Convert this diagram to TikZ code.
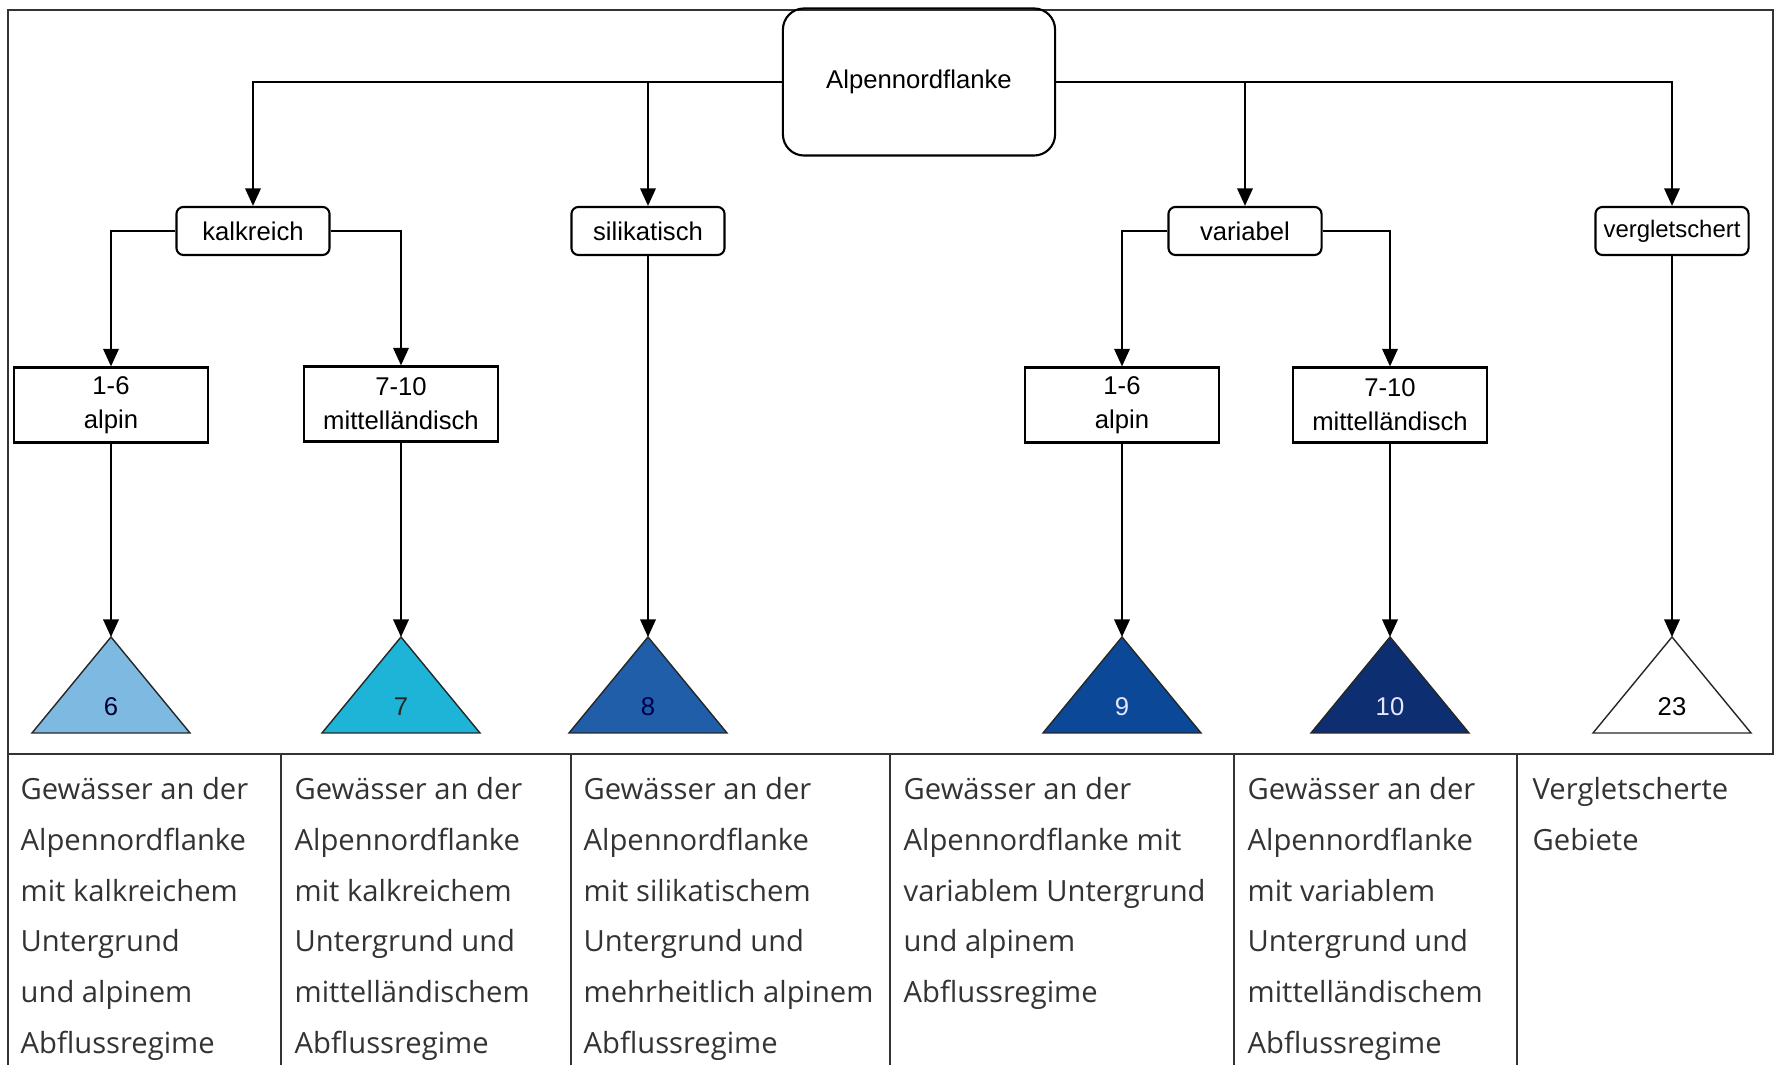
\documentclass[tikz,border=0pt]{standalone}
\usepackage{fontspec}
\setmainfont{Open Sans}
\newfontfamily\diafont{Liberation Sans}
\usetikzlibrary{arrows.meta}
\definecolor{tri6}{RGB}{125,185,225}
\definecolor{tri7}{RGB}{30,180,215}
\definecolor{tri8}{RGB}{33,94,170}
\definecolor{tri9}{RGB}{12,72,152}
\definecolor{tri10}{RGB}{14,46,114}
\colorlet{textgray}{black!80}
\tikzset{
  >={Triangle[length=5pt,width=4.4pt]}, % filled black arrow heads
  connect/.style={line width=0.6pt,->},
  frame/.style={line width=0.5pt,black!80},
  box/.style={draw,line width=0.6pt,inner sep=0pt,align=center,
              font=\diafont\fontsize{7.3}{9.7}\selectfont},
  root/.style={box,rounded corners=6pt,minimum width=2.72cm,minimum height=1.47cm},
  group/.style={box,rounded corners=2pt,minimum width=1.53cm,minimum height=0.48cm},
  regime/.style={box,minimum width=1.94cm,minimum height=0.75cm},
  tri/.style={line width=0.4pt,draw=black!85},
  num/.style={inner sep=0pt,font=\diafont\fontsize{7.3}{9}\selectfont},
  desc/.style={anchor=north west,inner sep=0pt,align=left,text=textgray,
               font=\fontsize{8.3}{14.4}\selectfont}
}
\begin{document}
\begin{tikzpicture}[x=0.01cm,y=-0.01cm]
  \useasboundingbox (0,0) rectangle (1784,1065);
  % Frame and table
  \draw[frame] (8,10) rectangle (1773,754);
  \draw[frame] (8,754) -- (8,1065);
  \foreach \x in {281,571,890,1234,1517}{%
    \draw[frame] (\x,754) -- (\x,1065);
  }
  % Top node
  \node[root] (root) at (919,82) {Alpennordflanke};
  % Second level
  \node[group] (kalk) at (253,231) {kalkreich};
  \node[group] (sili) at (648,231) {silikatisch};
  \node[group] (vari) at (1245,231) {variabel};
  \node[group,font=\diafont\fontsize{6.8}{8}\selectfont] (vergl) at (1672,231) {vergletschert};
  \draw[connect] (root.west) -| (kalk.north);
  \draw[connect] (root.west) -| (sili.north);
  \draw[connect] (root.east) -| (vari.north);
  \draw[connect] (root.east) -| (vergl.north);
  % Third level
  \node[regime] (alp1) at (111,405) {1-6\\alpin};
  \node[regime] (mit1) at (401,404) {7-10\\mittelländisch};
  \node[regime] (alp2) at (1122,405) {1-6\\alpin};
  \node[regime] (mit2) at (1390,405) {7-10\\mittelländisch};
  \draw[connect] (kalk.west) -| (alp1.north);
  \draw[connect] (kalk.east) -| (mit1.north);
  \draw[connect] (vari.west) -| (alp2.north);
  \draw[connect] (vari.east) -| (mit2.north);
  % Triangles with type numbers
  \foreach \nm/\x/\col/\tcol in {6/111/tri6/black!80!blue,7/401/tri7/black!85,
      8/648/tri8/black!70!blue,9/1122/tri9/blue!10,10/1390/tri10/blue!10,23/1672/white/black}{%
    \coordinate (t\nm) at (\x,637);
    \draw[tri,fill=\col] (t\nm) -- ++(79,96) -- ++(-158,0) -- cycle;
    \node[num,text=\tcol] (n\nm) at (\x,707) {\nm};
  }
  \draw[connect] (alp1.south) -- (t6);
  \draw[connect] (mit1.south) -- (t7);
  \draw[connect] (sili.south) -- (t8);
  \draw[connect] (alp2.south) -- (t9);
  \draw[connect] (mit2.south) -- (t10);
  \draw[connect] (vergl.south) -- (t23);
  % Descriptions
  \foreach \x/\txt [count=\i] in {
      20/{Gewässer an der\\Alpennordflanke\\mit kalkreichem\\Untergrund\\und alpinem\\Abflussregime},
      294/{Gewässer an der\\Alpennordflanke\\mit kalkreichem\\Untergrund und\\mittelländischem\\Abflussregime},
      583/{Gewässer an der\\Alpennordflanke\\mit silikatischem\\Untergrund und\\mehrheitlich alpinem\\Abflussregime},
      903/{Gewässer an der\\Alpennordflanke mit\\variablem Untergrund\\und alpinem\\Abflussregime},
      1247/{Gewässer an der\\Alpennordflanke\\mit variablem\\Untergrund und\\mittelländischem\\Abflussregime},
      1532/{Vergletscherte\\Gebiete}}{%
    \node[desc] (d\i) at (\x,777) {\txt};
  }
\end{tikzpicture}
\end{document}
